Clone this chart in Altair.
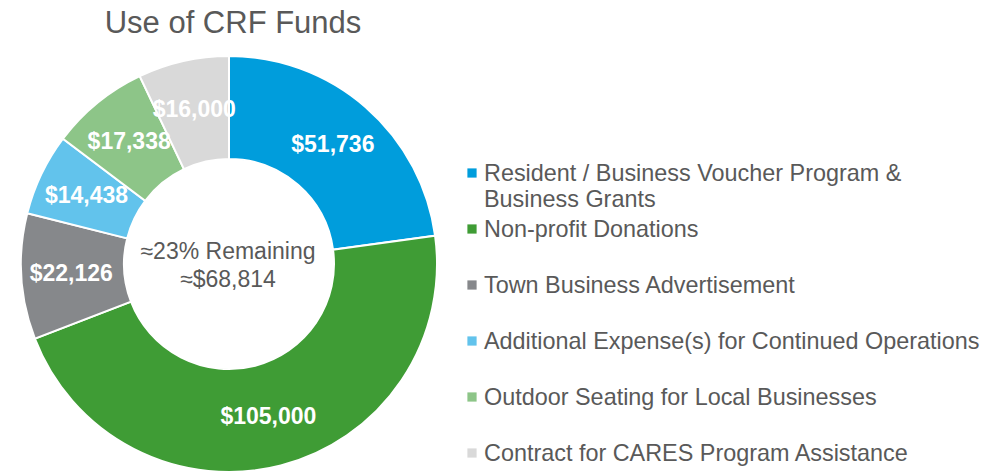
import altair as alt
import pandas as pd

# ---- data ----
categories = [
    "Resident / Business Voucher Program & Business Grants",
    "Non-profit Donations",
    "Town Business Advertisement",
    "Additional Expense(s) for Continued Operations",
    "Outdoor Seating for Local Businesses",
    "Contract for CARES Program Assistance",
]
legend_labels = [
    "Resident / Business Voucher Program &\nBusiness Grants",
    "Non-profit Donations",
    "Town Business Advertisement",
    "Additional Expense(s) for Continued Operations",
    "Outdoor Seating for Local Businesses",
    "Contract for CARES Program Assistance",
]
amounts = [51736, 105000, 22126, 14438, 17338, 16000]
value_labels = ["$51,736", "$105,000", "$22,126", "$14,438", "$17,338", "$16,000"]
colors = ["#009DDC", "#3F9C35", "#86888B", "#62C3EC", "#8DC588", "#D9D9D9"]
title_text = "Use of CRF Funds"
center_text = "≈23% Remaining\n≈$68,814"

FONT = "Liberation Sans"
GRAY = "#595959"

df = pd.DataFrame({
    "category": categories,
    "amount": amounts,
    "label": value_labels,
    "order": list(range(len(categories))),
})
legend_df = pd.DataFrame({
    "category": categories,
    "legend_label": legend_labels,
    "row": list(range(len(categories))),
})

color_scale = alt.Scale(domain=categories, range=colors)
CX, CY = 221, 256

base = alt.Chart(df)
arcs = base.mark_arc(innerRadius=105, outerRadius=208, stroke="white", strokeWidth=2).encode(
    theta=alt.Theta("amount:Q", stack=True),
    color=alt.Color("category:N", scale=color_scale, legend=None),
    order=alt.Order("order:Q"),
    x=alt.value(CX),
    y=alt.value(CY),
)
slice_labels = base.mark_text(
    radius=158, font=FONT, fontSize=23, fontWeight="bold", color="white"
).encode(
    theta=alt.Theta("amount:Q", stack=True),
    text="label:N",
    order=alt.Order("order:Q"),
    x=alt.value(CX),
    y=alt.value(CY),
)

center = alt.Chart(pd.DataFrame({"t": [center_text]})).mark_text(
    align="center", baseline="alphabetic", lineBreak="\n", lineHeight=28,
    font=FONT, fontSize=23, color=GRAY
).encode(x=alt.value(220), y=alt.value(251), text="t:N")

title = alt.Chart(pd.DataFrame({"t": [title_text]})).mark_text(
    align="center", baseline="alphabetic", font=FONT, fontSize=31, color=GRAY
).encode(x=alt.value(225), y=alt.value(25), text="t:N")

row_y = alt.Y("row:Q", scale=alt.Scale(domain=[0, 5], range=[165, 445]), axis=None)
leg_base = alt.Chart(legend_df)
leg_sq = leg_base.mark_point(shape="square", filled=True, size=85, opacity=1).encode(
    x=alt.value(464),
    y=row_y,
    color=alt.Color("category:N", scale=color_scale, legend=None),
)
leg_txt = leg_base.mark_text(
    align="left", baseline="alphabetic", dy=8, lineBreak="\n", lineHeight=26,
    font=FONT, fontSize=23.4, color=GRAY
).encode(x=alt.value(476), y=row_y, text="legend_label:N")

chart = alt.layer(arcs, slice_labels, center, title, leg_sq, leg_txt).properties(
    width=986, height=465, padding=0,
    autosize=alt.AutoSizeParams(type="none"),
).configure_view(stroke=None)

chart.save("out.html", embed_options={"renderer": "svg", "actions": False})
